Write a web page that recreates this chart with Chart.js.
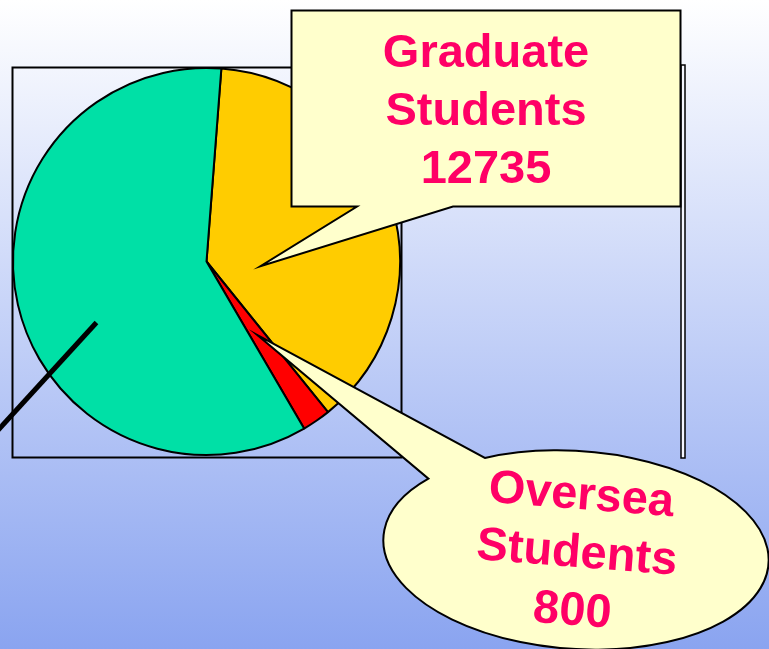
<!DOCTYPE html>
<html>
<head>
<meta charset="utf-8">
<script src="https://cdn.jsdelivr.net/npm/chart.js@4.4.1/dist/chart.umd.min.js"></script>
<style>
  html, body { margin: 0; padding: 0; overflow: hidden; }
  #wrap { width: 769px; height: 649px; }
</style>
</head>
<body>
<div id="wrap"><canvas id="pieChart" width="769" height="649"></canvas></div>
<script>
const labels = ["Graduate Students", "Oversea Students", "Undergraduate Students"];
const students = [12735, 800, 20000];

const sliceColors = ["#ffcc00", "#ff0000", "#00e0a6"];
const textColor = "#ff0066";
const calloutFill = "#ffffcc";
const calloutFont = "bold 47px 'Liberation Sans', Arial, sans-serif";

// point inside the pie, angle in degrees clockwise from the top, r as a fraction of the radius
function piePoint(arc, deg, frac) {
  const a = (deg - 90) * Math.PI / 180;
  return { x: arc.x + Math.cos(a) * arc.outerRadius * frac, y: arc.y + Math.sin(a) * arc.outerRadius * frac };
}

function calloutText(i) {
  return labels[i].split(" ").concat([String(students[i])]);
}

const decorations = {
  id: "decorations",
  beforeDraw(chart) {
    const ctx = chart.ctx;
    const g = ctx.createLinearGradient(0, 0, 0, chart.height);
    g.addColorStop(0, "#ffffff");
    g.addColorStop(1, "#8aa4f0");
    ctx.save();
    ctx.fillStyle = g;
    ctx.fillRect(0, 0, chart.width, chart.height);
    ctx.restore();
  },
  beforeDatasetsDraw(chart) {
    const ctx = chart.ctx;
    const area = chart.chartArea;
    ctx.save();
    ctx.strokeStyle = "#000";
    ctx.lineWidth = 2;
    ctx.strokeRect(area.left + 0.5, area.top + 0.5, area.right - area.left, area.bottom - area.top + 1);
    // thin upright bar on the right
    ctx.fillStyle = "#f4f6ff";
    ctx.fillRect(681, 65, 4, 393);
    ctx.lineWidth = 1.5;
    ctx.strokeRect(681, 65, 4, 393);
    ctx.restore();
  },
  afterDatasetsDraw(chart) {
    const ctx = chart.ctx;
    const arcs = chart.getDatasetMeta(0).data;
    const pie = arcs[0];
    ctx.save();
    ctx.lineJoin = "miter";

    // pointer line towards the green slice
    const lineStart = piePoint(pie, 241, 0.65);
    ctx.strokeStyle = "#000";
    ctx.lineWidth = 5;
    ctx.beginPath();
    ctx.moveTo(lineStart.x, lineStart.y);
    ctx.lineTo(-10, 439);
    ctx.stroke();

    // graduate callout box
    const gTip = piePoint(pie, 95, 0.28);
    ctx.lineWidth = 2;
    ctx.fillStyle = calloutFill;
    ctx.beginPath();
    ctx.moveTo(291.5, 10.5);
    ctx.lineTo(680.5, 10.5);
    ctx.lineTo(680.5, 206.5);
    ctx.lineTo(453, 206.5);
    ctx.lineTo(gTip.x, gTip.y);
    ctx.lineTo(357, 206.5);
    ctx.lineTo(291.5, 206.5);
    ctx.closePath();
    ctx.fill();
    ctx.stroke();

    ctx.fillStyle = textColor;
    ctx.font = calloutFont;
    ctx.textAlign = "center";
    ctx.textBaseline = "alphabetic";
    calloutText(0).forEach((t, i) => ctx.fillText(t, 486, 67 + i * 58));

    // oversea callout balloon
    const red = arcs[1];
    const oTip = piePoint(pie, ((red.startAngle + red.endAngle) / 2) * 180 / Math.PI + 90, 0.46);
    const cx = 576, cy = 550, rx = 193, ry = 99, rot = 4 * Math.PI / 180;
    const param = (px, py) => {
      const dx = px - cx, dy = py - cy;
      const xr = dx * Math.cos(rot) + dy * Math.sin(rot);
      const yr = -dx * Math.sin(rot) + dy * Math.cos(rot);
      return Math.atan2(yr / ry, xr / rx);
    };
    const onEllipse = t => ({
      x: cx + rx * Math.cos(t) * Math.cos(rot) - ry * Math.sin(t) * Math.sin(rot),
      y: cy + rx * Math.cos(t) * Math.sin(rot) + ry * Math.sin(t) * Math.cos(rot)
    });
    const tA = param(482, 455);
    const tB = param(425, 477);
    const pA = onEllipse(tA);
    ctx.fillStyle = calloutFill;
    ctx.strokeStyle = "#000";
    ctx.lineWidth = 2;
    ctx.beginPath();
    ctx.moveTo(oTip.x, oTip.y);
    ctx.lineTo(pA.x, pA.y);
    ctx.ellipse(cx, cy, rx, ry, rot, tA, tB, false);
    ctx.closePath();
    ctx.fill();
    ctx.stroke();

    ctx.translate(577, 551);
    ctx.rotate(4.5 * Math.PI / 180);
    ctx.fillStyle = textColor;
    ctx.font = calloutFont;
    calloutText(1).forEach((t, i) => ctx.fillText(t, 0, -42 + i * 58));
    ctx.restore();
  }
};

new Chart(document.getElementById("pieChart"), {
  type: "pie",
  data: {
    labels,
    datasets: [{
      data: students,
      backgroundColor: sliceColors,
      borderColor: "#000",
      borderWidth: 2
    }]
  },
  options: {
    responsive: false,
    devicePixelRatio: 1,
    animation: false,
    rotation: 4.4,
    layout: { padding: { left: 12, top: 67, right: 368, bottom: 193 } },
    plugins: {
      legend: { display: false },
      tooltip: { enabled: false }
    }
  },
  plugins: [decorations]
});
</script>
</body>
</html>
